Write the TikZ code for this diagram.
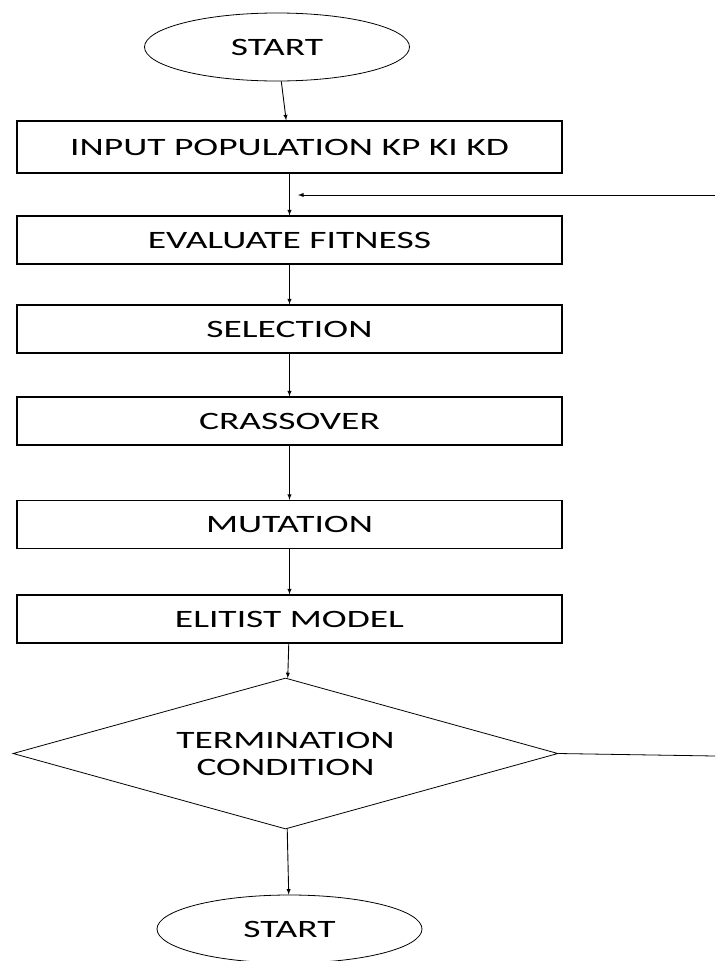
\documentclass[tikz,border=0pt]{standalone}
\usepackage{fontspec}
\newfontfamily\flowfont[FakeStretch=1.5]{Carlito}
\usetikzlibrary{shapes.geometric}
\tikzset{
  stepbox/.style={draw,line width=1.2pt,rectangle,minimum width=545,minimum height=48,inner sep=0},
  terminal/.style={draw,line width=0.8pt,ellipse,minimum width=265,minimum height=68,inner sep=0},
  decide/.style={draw,line width=0.8pt,diamond,aspect=3.6,minimum width=545,minimum height=151,inner sep=0,align=center},
  link/.style={line width=0.9pt,-latex}
}
\begin{document}
\begin{tikzpicture}[x=1pt,y=-1pt,font=\flowfont\fontsize{25}{27}\selectfont]
\useasboundingbox (0,0) rectangle (715,961);
\node[terminal](start) at (277,47){START};
\node[stepbox,minimum height=52](input) at (289.5,147){INPUT POPULATION KP KI KD};
\node[stepbox](fitness) at (289.5,240){EVALUATE FITNESS};
\node[stepbox](select) at (289.5,329){SELECTION};
\node[stepbox](cross) at (289.5,421){CRASSOVER};
\node[stepbox](mutate) at (289.5,524.5){MUTATION};
\node[stepbox](elite) at (289.5,619){ELITIST MODEL};
\node[decide](term) at (285.5,753.5){TERMINATION\\CONDITION};
\node[terminal](stop) at (289.5,929){START};
\draw[link](start)--(input);
\draw[link](input)--(fitness);
\draw[link](fitness)--(select);
\draw[link](select)--(cross);
\draw[link](cross)--(mutate);
\draw[link](mutate)--(elite);
\draw[link](elite)--(term);
\draw[link](term)--(stop);
% loop back, cut at the right edge
\coordinate (outR) at (715,756);
\coordinate (backR) at (715,195);
\coordinate (join) at (298,195);
\draw[line width=0.8pt](term.east)--(outR);
\draw[link](backR)--(join);
\end{tikzpicture}
\end{document}
